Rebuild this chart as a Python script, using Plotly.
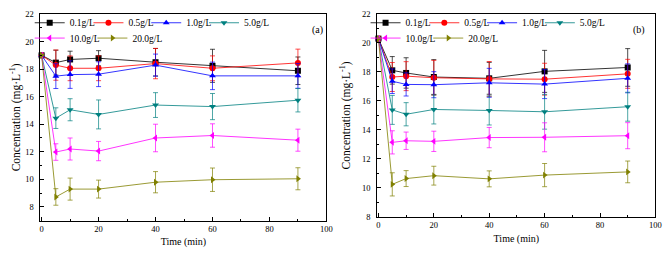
import plotly.graph_objects as go

# ---------------- data ----------------
time_min = [0, 5, 10, 20, 40, 60, 90]
series_names = ["0.1g/L", "0.5g/L", "1.0g/L", "5.0g/L", "10.0g/L", "20.0g/L"]

# panel (a)
a_01 = [19.0, 18.47, 18.70, 18.79, 18.50, 18.24, 17.88]
a_05 = [19.0, 18.29, 18.06, 18.06, 18.40, 18.06, 18.45]
a_10 = [19.0, 17.49, 17.60, 17.63, 18.29, 17.51, 17.51]
a_50 = [19.0, 14.44, 15.05, 14.71, 15.39, 15.28, 15.74]
a_100 = [19.0, 11.98, 12.20, 12.05, 13.00, 13.18, 12.84]
a_200 = [19.0, 8.72, 9.29, 9.29, 9.79, 9.97, 10.04]

a_01_err = [0, 0.9, 0.6, 0.55, 1.0, 1.2, 1.0]
a_05_err = [0, 1.1, 0.9, 0.9, 1.1, 0.9, 1.0]
a_10_err = [0, 0.9, 1.0, 0.9, 0.8, 1.0, 0.9]
a_50_err = [0, 0.75, 0.8, 1.05, 0.9, 0.95, 0.85]
a_100_err = [0, 0.6, 0.8, 0.7, 1.0, 0.85, 0.8]
a_200_err = [0, 0.6, 0.8, 0.65, 0.77, 0.85, 0.8]

# panel (b)
b_01 = [20.3, 18.11, 17.93, 17.65, 17.56, 18.04, 18.31]
b_05 = [20.3, 17.65, 17.71, 17.60, 17.52, 17.50, 17.87]
b_10 = [20.3, 17.36, 17.14, 17.12, 17.25, 17.16, 17.56]
b_50 = [20.3, 15.38, 15.08, 15.41, 15.34, 15.25, 15.60]
b_100 = [20.3, 13.14, 13.25, 13.21, 13.47, 13.49, 13.60]
b_200 = [20.3, 10.24, 10.64, 10.84, 10.62, 10.88, 11.10]

b_01_err = [0, 0.95, 1.05, 1.2, 1.1, 1.45, 1.3]
b_05_err = [0, 1.0, 1.0, 1.2, 1.2, 1.1, 1.0]
b_10_err = [0, 0.85, 0.8, 0.9, 1.0, 1.0, 1.0]
b_50_err = [0, 1.0, 0.8, 1.0, 1.0, 1.2, 1.0]
b_100_err = [0, 0.8, 0.6, 0.7, 0.7, 1.0, 0.9]
b_200_err = [0, 0.8, 0.55, 0.65, 0.55, 0.8, 0.75]

x_ticks = [0, 20, 40, 60, 80, 100]
y_ticks_a = [8, 10, 12, 14, 16, 18, 20, 22]
y_ticks_b = [8, 10, 12, 14, 16, 18, 20, 22]

# ---------------- style ----------------
colors = ["#000000", "#ff0000", "#0000ff", "#008080", "#ff00ff", "#808000"]
symbols = ["square", "circle", "triangle-up", "triangle-down", "triangle-left", "triangle-right"]
FONT = "Liberation Serif, Times New Roman, serif"
W, H = 672, 254
OFF = 8  # default page body margin shifts the figure by 8 px


def fx(p):
    return (p - OFF) / W


def fy(p):
    return (H - (p - OFF)) / H


def clamp(v):
    return max(0.0, min(1.0, v))


# legend entry positions (px of the text start, row top offset) in screen px
leg_text_x_a = [62, 122, 181, 240, 62, 126]
leg_text_x_b = [405, 465, 524, 583, 405, 469]
leg_row_y = [2, 2, 2, 2, 18, 18]

panel_a = [a_01, a_05, a_10, a_50, a_100, a_200]
panel_a_err = [a_01_err, a_05_err, a_10_err, a_50_err, a_100_err, a_200_err]
panel_b = [b_01, b_05, b_10, b_50, b_100, b_200]
panel_b_err = [b_01_err, b_05_err, b_10_err, b_50_err, b_100_err, b_200_err]

fig = go.Figure()
legend_layout = {}

legend_common = dict(orientation="h", xanchor="left", yanchor="top",
                     bgcolor="rgba(0,0,0,0)", borderwidth=0, visible=True,
                     font=dict(family=FONT, size=9.5, color="black"),
                     itemwidth=30)


def add_panel(vals, errs, xa, ya, text_x, leg_offset):
    for i, (name, v, e) in enumerate(zip(series_names, vals, errs)):
        k = leg_offset + i + 1
        key = "legend" if k == 1 else f"legend{k}"
        fig.add_trace(go.Scatter(
            x=time_min, y=v, name=name, mode="lines+markers",
            xaxis=xa, yaxis=ya, showlegend=True,
            line=dict(color=colors[i], width=0.8),
            marker=dict(symbol=symbols[i], size=6, color=colors[i]),
            error_y=dict(type="data", array=e, visible=True, color=colors[i],
                         thickness=0.7, width=2.5),
            legend=key,
            cliponaxis=False,
        ))
        legend_layout[key] = dict(legend_common, x=fx(text_x[i] - 40),
                                  y=fy(leg_row_y[i]))


add_panel(panel_a, panel_a_err, "x", "y", leg_text_x_a, 0)
add_panel(panel_b, panel_b_err, "x2", "y2", leg_text_x_b, 6)

axis_common = dict(
    showline=True, linecolor="black", linewidth=1, mirror=True,
    ticks="inside", ticklen=4, tickwidth=1, tickcolor="black",
    showgrid=False, zeroline=False, ticklabeloverflow="allow",
    tickfont=dict(family=FONT, size=8.5, color="black"),
)

xa_common = dict(axis_common, range=[-0.4, 100], tickvals=x_ticks,
                 minor=dict(dtick=10, tick0=0, ticks="inside", ticklen=2, tickcolor="black"),
                 title=dict(text="Time (min)", font=dict(family=FONT, size=10, color="black"),
                            standoff=5))


def ya_common(ticks, rng):
    return dict(axis_common, range=rng, tickvals=ticks, ticklabelstandoff=4,
                minor=dict(dtick=1, tick0=0, ticks="inside", ticklen=2, tickcolor="black"),
                title=dict(text="Concentration (mg·L<sup>-1</sup>)",
                           font=dict(family=FONT, size=11.5, color="black"), standoff=9))


fig.update_layout(
    width=W, height=H,
    margin=dict(l=0, r=0, t=0, b=0),
    showlegend=True,
    paper_bgcolor="white", plot_bgcolor="white",
    font=dict(family=FONT, color="black"),
    xaxis=dict(xa_common, domain=[fx(33), fx(325)], anchor="y"),
    yaxis=dict(ya_common(y_ticks_a, [7, 22]), domain=[clamp(fy(224)), clamp(fy(8))], anchor="x"),
    xaxis2=dict(xa_common, domain=[fx(377), fx(661)], anchor="y2"),
    yaxis2=dict(ya_common(y_ticks_b, [8, 22]), domain=[clamp(fy(220)), clamp(fy(8))], anchor="x2"),
    annotations=[
        dict(text="(a)", x=fx(316), y=fy(16), xref="paper", yref="paper",
             showarrow=False, font=dict(family=FONT, size=10, color="black")),
        dict(text="(b)", x=fx(652), y=fy(16), xref="paper", yref="paper",
             showarrow=False, font=dict(family=FONT, size=10, color="black")),
    ],
    **legend_layout,
)

fig.write_html("out.html")
